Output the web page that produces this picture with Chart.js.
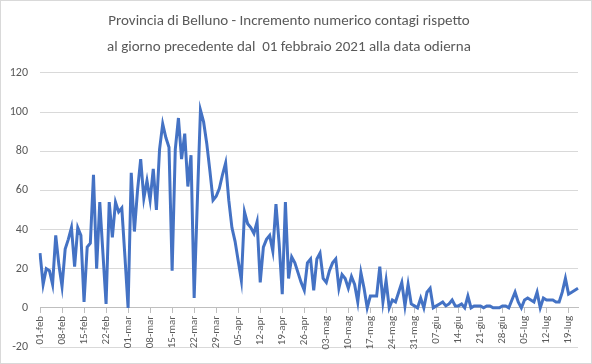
<!DOCTYPE html>
<html>
<head>
<meta charset="utf-8">
<script src="https://cdn.jsdelivr.net/npm/chart.js@4"></script>
<style>
  html, body { margin: 0; padding: 0; background: #ffffff; }
  #wrap { width: 592px; height: 364px; position: relative; }
</style>
</head>
<body>
<div id="wrap"><canvas id="c" width="592" height="364"></canvas></div>
<script>
// ---- data ----
const titleLines = [
  "Provincia di Belluno - Incremento numerico contagi rispetto",
  "al giorno precedente dal  01 febbraio 2021 alla data odierna"
];
const monthNames = ["feb", "mar", "apr", "mag", "giu", "lug"];
const monthDays = [28, 31, 30, 31, 30, 31];
const dayCount = 172; // 01-feb .. 22-lug
const labelEvery = 7;
const yTicks = [-20, 0, 20, 40, 60, 80, 100, 120];

const increments = [
  28, 12, 20, 19, 12, 37, 22, 11, 30, 35,
  41, 21, 41, 37, 3, 31, 33, 68, 20, 54,
  28, 2, 54, 36, 54, 49, 51, 26, 0, 69,
  39, 60, 76, 56, 65, 55, 71, 50, 81, 94,
  87, 82, 19, 81, 97, 76, 89, 62, 78, 5,
  54, 101, 95, 84, 70, 55, 57, 61, 68, 74,
  55, 41, 34, 24, 14, 49, 43, 41, 38, 44,
  13, 31, 35, 37, 29, 53, 33, 7, 54, 15,
  26, 23, 18, 13, 9, 23, 25, 9, 25, 28,
  15, 13, 19, 23, 25, 10, 17, 15, 10, 16,
  12, 3, 18, 10, 0, 6, 6, 6, 21, 3,
  14, 0, 4, 3, 8, 13, 1, 12, 2, 1,
  0, 5, 0, 8, 10, 0, 1, 2, 3, 1,
  2, 4, 1, 1, 2, 0, 6, 0, 1, 1,
  1, 0, 1, 1, 0, 0, 0, 1, 1, 0,
  4, 8, 3, 0, 4, 5, 4, 3, 8, 0,
  5, 4, 4, 4, 3, 3, 8, 15, 7, 8,
  9, 10
];

// category labels dd-mmm
const dates = [];
(function () {
  let m = 0, d = 1;
  for (let i = 0; i < dayCount; i++) {
    dates.push(String(d).padStart(2, "0") + "-" + monthNames[m]);
    d++;
    if (d > monthDays[m]) { d = 1; m++; }
  }
})();

const FONT = "Carlito, Calibri, Lato, 'Liberation Sans', sans-serif";
const TXT = "#595959";

const borderPlugin = {
  id: "outerBorder",
  afterDraw(chart) {
    const ctx = chart.ctx;
    ctx.save();
    ctx.strokeStyle = "#D9D9D9";
    ctx.lineWidth = 1;
    ctx.strokeRect(0.5, 0.5, chart.width - 1, chart.height - 1);
    ctx.restore();
  }
};

new Chart(document.getElementById("c"), {
  type: "line",
  data: {
    labels: dates,
    datasets: [{
      data: increments,
      borderColor: "#4472C4",
      borderWidth: 3,
      pointRadius: 0,
      tension: 0,
      fill: false
    }]
  },
  options: {
    responsive: false,
    animation: false,
    devicePixelRatio: 1,
    layout: { padding: { left: 0, right: 14, top: 0, bottom: 17 } },
    plugins: {
      legend: { display: false },
      tooltip: { enabled: false },
      title: {
        display: true,
        text: titleLines,
        color: TXT,
        font: { family: FONT, size: 15, weight: "normal", lineHeight: 1.733 },
        padding: { top: 8, bottom: 13 }
      }
    },
    scales: {
      x: {
        type: "category",
        position: { y: 0 },
        offset: false,
        grid: { drawOnChartArea: false, drawTicks: true, tickLength: 5, color: "#BFBFBF" },
        border: { display: true, color: "#BFBFBF", width: 1 },
        ticks: {
          autoSkip: false,
          maxRotation: 90,
          minRotation: 90,
          padding: 3,
          color: TXT,
          font: { family: FONT, size: 11 },
          callback: function (v, i) { return i % labelEvery === 0 ? dates[i] : null; }
        }
      },
      y: {
        min: yTicks[0],
        max: yTicks[yTicks.length - 1],
        afterBuildTicks: function (s) { s.ticks = yTicks.map(v => ({ value: v })); },
        afterFit: function (s) { s.width = 40; },
        grid: { color: "#D9D9D9", drawTicks: true, tickLength: 10, tickColor: "rgba(0,0,0,0)" },
        border: { display: false },
        ticks: {
          padding: 2,
          color: TXT,
          font: { family: FONT, size: 12 }
        }
      }
    }
  },
  plugins: [borderPlugin]
});
</script>
</body>
</html>
